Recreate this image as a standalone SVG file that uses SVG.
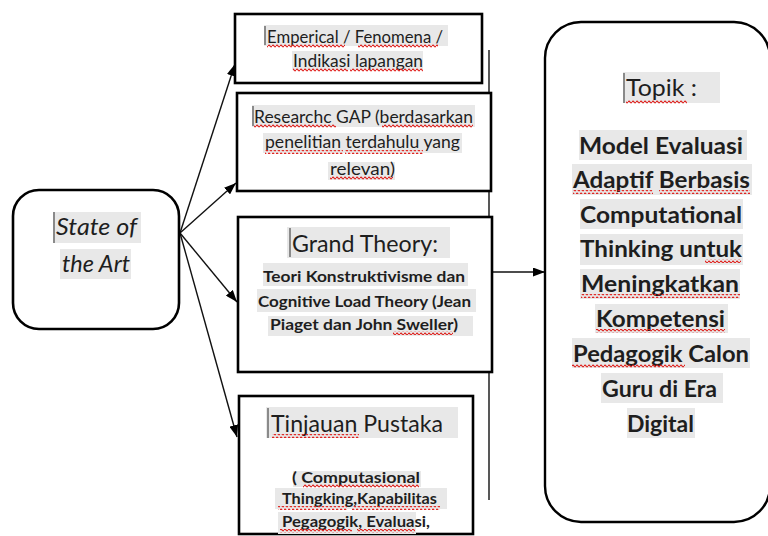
<svg xmlns="http://www.w3.org/2000/svg" width="768" height="536" viewBox="0 0 768 536">
<style>
.box{fill:#fff;stroke:#000;stroke-width:2.6}
.rbox{fill:#fff;stroke:#000;stroke-width:2.4}
.hl{fill:#e8e8e8}
.cur{fill:#8a8a8a}
.wave{fill:url(#wv)}
.t{font-family:Lato,"Open Sans","Liberation Sans",sans-serif;fill:#1e1e1e}
.r{font-size:16.5px}
.rb{font-size:16px;font-weight:bold}
.ti{font-size:23px}
.it{font-size:23px;font-style:italic}
.big{font-size:23px;font-weight:bold}
.con{stroke:#111;stroke-width:1.4;fill:none}
</style>
<defs>
<pattern id="wv" patternUnits="userSpaceOnUse" width="4" height="4">
<path d="M0 2 Q1 0.3 2 2 T4 2" fill="none" stroke="#e0201c" stroke-width="1.2"/>
</pattern>
<marker id="ah" viewBox="0 0 12 9" refX="12" refY="4.5" markerWidth="12" markerHeight="9" markerUnits="userSpaceOnUse" orient="auto">
<path d="M0 0 L12 4.5 L0 9 z" fill="#000"/>
</marker>
</defs>

<g id="connectors">
<line class="con" x1="180" y1="233" x2="235" y2="64" marker-end="url(#ah)"/>
<line class="con" x1="180" y1="233" x2="236" y2="183" marker-end="url(#ah)"/>
<line class="con" x1="180" y1="233" x2="237" y2="302" marker-end="url(#ah)"/>
<line class="con" x1="180" y1="233" x2="237" y2="437" marker-end="url(#ah)"/>
<line class="con" x1="489" y1="50" x2="489" y2="500"/>
<line class="con" x1="490" y1="272" x2="545" y2="272" marker-end="url(#ah)"/>
</g>

<g id="node-state">
<rect class="box" x="13" y="190" width="166" height="139" rx="26"/>
<rect class="hl" x="53" y="212" width="88" height="31"/>
<rect class="hl" x="60" y="249" width="71" height="30"/>
<rect class="cur" x="53" y="212" width="2" height="31"/>
<text class="t it" x="56" y="235" textLength="81" lengthAdjust="spacingAndGlyphs">State of</text>
<text class="t it" x="62" y="272" textLength="68" lengthAdjust="spacingAndGlyphs">the Art</text>
</g>

<g id="node-empirical">
<rect class="box" x="235" y="14" width="247" height="69"/>
<rect class="hl" x="264" y="25" width="184" height="21"/>
<rect class="hl" x="292" y="51" width="131" height="19"/>
<rect class="cur" x="264" y="26" width="2" height="19"/>
<text class="t r" x="267" y="43" textLength="176" lengthAdjust="spacingAndGlyphs">Emperical / Fenomena /</text>
<text class="t r" x="293" y="67" textLength="130" lengthAdjust="spacingAndGlyphs">Indikasi lapangan</text>
<rect class="wave" x="267" y="44" width="78" height="4"/>
<rect class="wave" x="358" y="44" width="80" height="4"/>
<rect class="wave" x="293" y="68" width="55" height="4"/>
<rect class="wave" x="350" y="68" width="73" height="4"/>
</g>

<g id="node-gap">
<rect class="box" x="237" y="93" width="254" height="98"/>
<rect class="hl" x="252" y="105" width="223" height="22"/>
<rect class="hl" x="263" y="133" width="199" height="20"/>
<rect class="hl" x="328" y="162" width="67" height="18"/>
<rect class="cur" x="252" y="106" width="2" height="20"/>
<text class="t r" x="254" y="123" textLength="219" lengthAdjust="spacingAndGlyphs">Researchc GAP (berdasarkan</text>
<text class="t r" x="265" y="148" textLength="195" lengthAdjust="spacingAndGlyphs">penelitian terdahulu yang</text>
<text class="t r" x="330" y="175" textLength="65" lengthAdjust="spacingAndGlyphs">relevan)</text>
<rect class="wave" x="254" y="124" width="82" height="4"/>
<rect class="wave" x="382" y="124" width="91" height="4"/>
<rect class="wave" x="265" y="150" width="78" height="4"/>
<rect class="wave" x="345" y="150" width="78" height="4"/>
<rect class="wave" x="330" y="176" width="63" height="4"/>
</g>

<g id="node-grand">
<rect class="box" x="238" y="217" width="254" height="155"/>
<rect class="hl" x="287" y="227" width="163" height="31"/>
<rect class="hl" x="263" y="263" width="205" height="23"/>
<rect class="hl" x="257" y="289" width="219" height="23"/>
<rect class="hl" x="268" y="316" width="205" height="20"/>
<rect class="cur" x="289" y="228" width="2" height="29"/>
<text class="t ti" x="292" y="252" textLength="146" lengthAdjust="spacingAndGlyphs">Grand Theory:</text>
<text class="t rb" x="263" y="282" textLength="202" lengthAdjust="spacingAndGlyphs">Teori Konstruktivisme dan</text>
<text class="t rb" x="258" y="307" textLength="213" lengthAdjust="spacingAndGlyphs">Cognitive Load Theory (Jean</text>
<text class="t rb" x="270" y="330" textLength="188" lengthAdjust="spacingAndGlyphs">Piaget dan John Sweller)</text>
<rect class="wave" x="393" y="331" width="60" height="4"/>
</g>

<g id="node-tinjauan">
<rect class="box" x="239" y="396" width="234" height="138"/>
<rect class="hl" x="266" y="407" width="192" height="31"/>
<rect class="hl" x="293" y="471" width="128" height="16"/>
<rect class="hl" x="275" y="488" width="172" height="21"/>
<rect class="hl" x="278" y="512" width="138" height="22"/>
<rect class="cur" x="267" y="408" width="2" height="30"/>
<text class="t ti" x="271" y="432" textLength="172" lengthAdjust="spacingAndGlyphs">Tinjauan Pustaka</text>
<text class="t rb" x="292" y="483" textLength="128" lengthAdjust="spacingAndGlyphs">( Computasional</text>
<text class="t rb" x="282" y="504" textLength="155" lengthAdjust="spacingAndGlyphs">Thingking,Kapabilitas</text>
<text class="t rb" x="282" y="527" textLength="148" lengthAdjust="spacingAndGlyphs">Pegagogik, Evaluasi,</text>
<rect class="wave" x="272" y="434" width="87" height="4"/>
<rect class="wave" x="303" y="484" width="116" height="4"/>
<rect class="wave" x="278" y="506" width="69" height="4"/>
<rect class="wave" x="352" y="506" width="88" height="4"/>
<rect class="wave" x="280" y="529" width="72" height="4"/>
<rect class="wave" x="357" y="529" width="58" height="4"/>
</g>

<g id="node-topik">
<rect class="rbox" x="545" y="22" width="225" height="500" rx="36"/>
<rect class="hl" x="623" y="72" width="97" height="31"/>
<rect class="cur" x="623" y="73" width="2" height="30"/>
<text class="t ti" x="626" y="96" textLength="71" lengthAdjust="spacingAndGlyphs">Topik :</text>
<rect class="wave" x="626" y="100" width="61" height="4"/>
<rect class="hl" x="579" y="130" width="168" height="30"/>
<rect class="hl" x="572" y="164" width="180" height="31"/>
<rect class="hl" x="580" y="199" width="163" height="30"/>
<rect class="hl" x="580" y="234" width="163" height="31"/>
<rect class="hl" x="580" y="269" width="160" height="30"/>
<rect class="hl" x="595" y="304" width="133" height="29"/>
<rect class="hl" x="572" y="338" width="178" height="30"/>
<rect class="hl" x="601" y="373" width="122" height="30"/>
<rect class="hl" x="627" y="408" width="68" height="30"/>
<text class="t big" x="579" y="154" textLength="164" lengthAdjust="spacingAndGlyphs">Model Evaluasi</text>
<text class="t big" x="573" y="188" textLength="177" lengthAdjust="spacingAndGlyphs">Adaptif Berbasis</text>
<text class="t big" x="580" y="223" textLength="162" lengthAdjust="spacingAndGlyphs">Computational</text>
<text class="t big" x="580" y="257" textLength="162" lengthAdjust="spacingAndGlyphs">Thinking untuk</text>
<text class="t big" x="581" y="292" textLength="158" lengthAdjust="spacingAndGlyphs">Meningkatkan</text>
<text class="t big" x="596" y="327" textLength="129" lengthAdjust="spacingAndGlyphs">Kompetensi</text>
<text class="t big" x="573" y="362" textLength="176" lengthAdjust="spacingAndGlyphs">Pedagogik Calon</text>
<text class="t big" x="602" y="397" textLength="115" lengthAdjust="spacingAndGlyphs">Guru di Era</text>
<text class="t big" x="627" y="432" textLength="67" lengthAdjust="spacingAndGlyphs">Digital</text>
<rect class="wave" x="573" y="190" width="80" height="4"/>
<rect class="wave" x="659" y="190" width="91" height="4"/>
<rect class="wave" x="705" y="259" width="36" height="4"/>
<rect class="wave" x="581" y="294" width="159" height="4"/>
<rect class="wave" x="596" y="329" width="129" height="4"/>
<rect class="wave" x="572" y="364" width="113" height="4"/>
</g>
</svg>
